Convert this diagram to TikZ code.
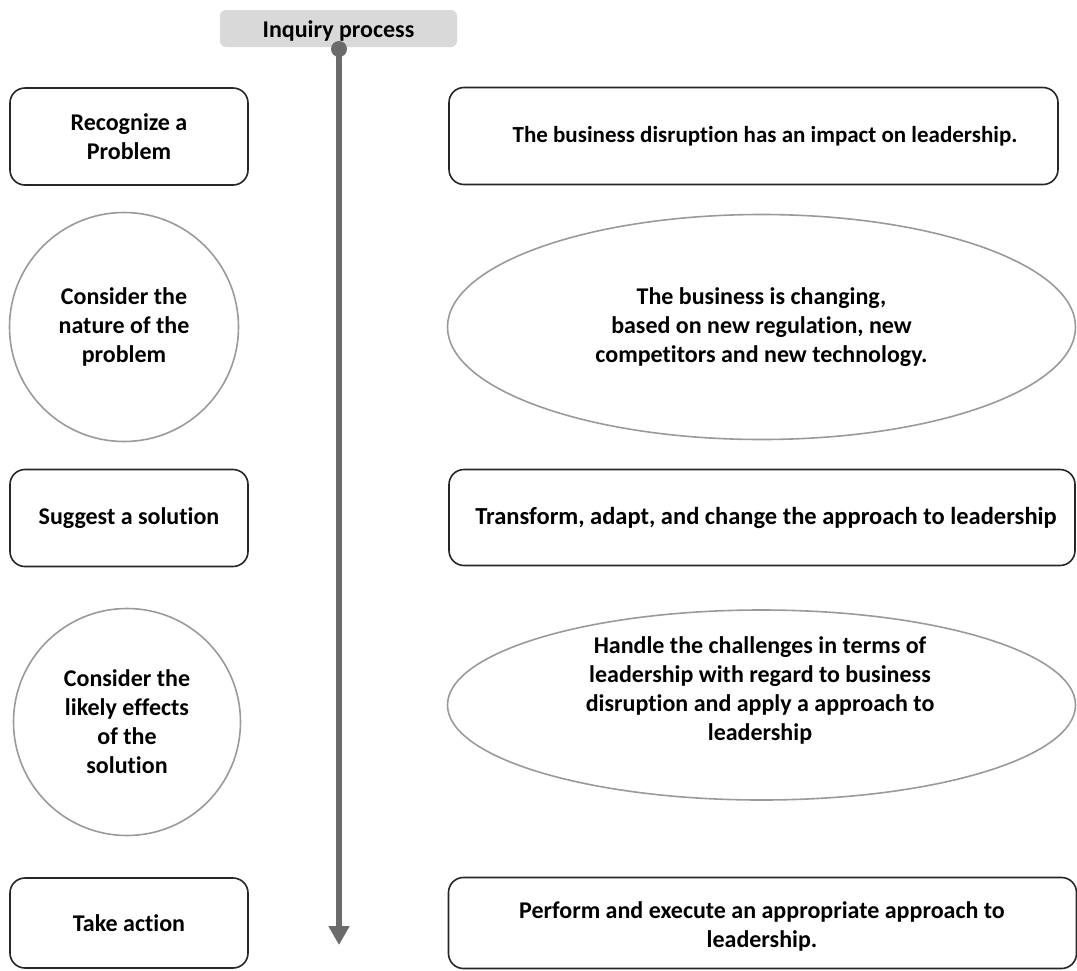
\documentclass[tikz,border=0pt]{standalone}
\usepackage{fontspec}
\setmainfont{Carlito}[Ligatures=NoCommon]
\usetikzlibrary{arrows.meta,shapes.geometric}
\definecolor{flowgray}{HTML}{6B6B6B}
\definecolor{headgray}{HTML}{D9D9D9}
\definecolor{ringgray}{HTML}{9A9A9A}
\begin{document}
\begin{tikzpicture}[x=1pt,y=-1pt,
  txt/.style={font=\bfseries\fontsize{24}{29}\selectfont, align=center, text=black},
  rbox/.style={draw=black!85, line width=1.6pt, rounded corners=15pt, inner sep=0pt, txt},
  ring/.style={draw=ringgray, line width=1.6pt, circle, inner sep=0pt, txt},
  oval/.style={draw=ringgray, line width=1.6pt, ellipse, inner sep=0pt, txt},
  leftbox/.style={rbox, minimum width=238pt, minimum height=97pt},
  flow/.style={draw=flowgray, line width=6pt, -{Triangle[width=20pt,length=19pt]}},
]
\useasboundingbox (0,0) rectangle (1077,970);

% header of the timeline
\node (head) [fill=headgray, rounded corners=6pt, minimum width=237pt, minimum height=37pt,
  inner sep=0pt] at (338.5,28.5) {};
\node (headtxt) [txt] at (338.5,30.5) {Inquiry process};
\node (dot) [circle, fill=flowgray, minimum size=16pt, inner sep=0pt] at (339,49) {};
\coordinate (tip) at (339,945);
\draw[flow] (dot.center) -- (tip);

% left column: steps of the inquiry
\node (s1) [leftbox] at (129,136.5) {Recognize a\\Problem};
\node (s2) [ring, minimum size=229pt] at (124,327) {Consider the\\nature of the\\problem};
\node (s3) [leftbox] at (129,518) {Suggest a solution};
\node (s4) [ring, minimum size=227pt] at (127,722) {Consider the\\likely effects\\of the\\solution};
\node (s5) [leftbox, minimum height=90pt] at (129,923) {Take action};

% right column: how each step applies
\node (r1) [rbox, minimum width=609pt, minimum height=97pt] at (753.5,136) {};
\node (r1txt) [txt, font=\bfseries\fontsize{23}{29}\selectfont] at (765,136) {The business disruption has an impact on leadership.};
\node (r2) [oval, minimum width=628pt, minimum height=225pt] at (761.5,327) {The business is changing,\\based on new regulation, new\\competitors and new technology.};
\node (r3) [rbox, minimum width=626pt, minimum height=96pt] at (762,517.5) {};
\node (r3txt) [txt, font=\bfseries\fontsize{24.5}{29}\selectfont] at (766,518) {Transform, adapt, and change the approach to leadership};
\node (r4) [oval, minimum width=628pt, minimum height=190pt] at (761.5,705) {};
\node (r4txt) [txt] at (760,690) {Handle the challenges in terms of\\leadership with regard to business\\disruption and apply a approach to\\leadership};
\node (r5) [rbox, minimum width=628pt, minimum height=91pt] at (762.5,923) {};
\node (r5txt) [txt] at (762,926) {Perform and execute an appropriate approach to\\leadership.};
\end{tikzpicture}
\end{document}
